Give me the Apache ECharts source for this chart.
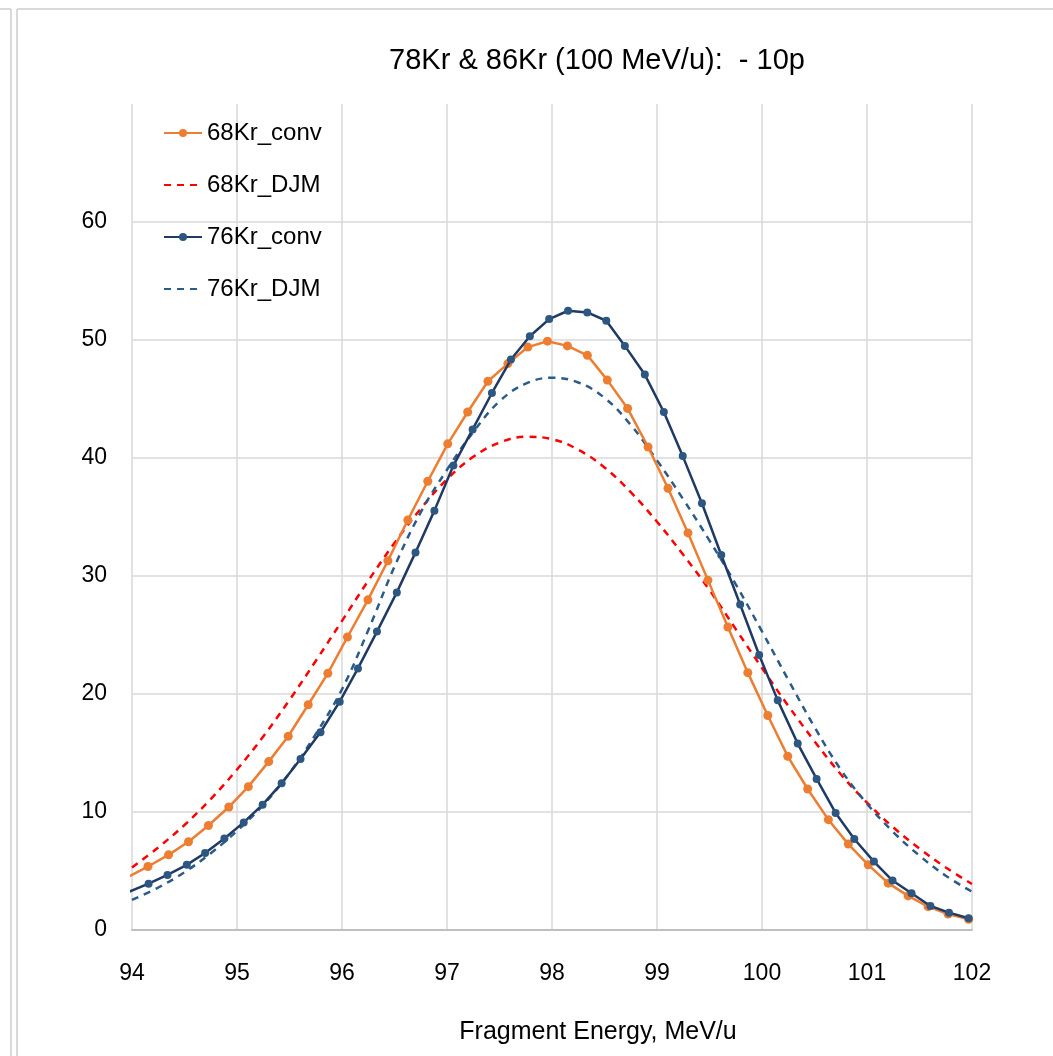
<!DOCTYPE html>
<html>
<head>
<meta charset="utf-8">
<script src="https://cdn.jsdelivr.net/npm/echarts@6/dist/echarts.min.js"></script>
<style>
html,body{margin:0;padding:0;background:#fff;}
#chart{width:1053px;height:1056px;}
</style>
</head>
<body>
<div id="chart"></div>
<script>
// ---- data ----
const titleText = '78Kr & 86Kr (100 MeV/u):  - 10p';
const xAxisName = 'Fragment Energy, MeV/u';
const seriesNames = ['68Kr_conv', '68Kr_DJM', '76Kr_conv', '76Kr_DJM'];
const xTicks = [94, 95, 96, 97, 98, 99, 100, 101, 102];
const yTicks = [0, 10, 20, 30, 40, 50, 60];

const kr68ConvX = [93.961, 94.152, 94.348, 94.538, 94.728, 94.922, 95.108, 95.302, 95.488, 95.678, 95.865,
  96.052, 96.247, 96.437, 96.627, 96.817, 97.007, 97.197, 97.390, 97.580, 97.770, 97.957, 98.147, 98.337,
  98.527, 98.720, 98.915, 99.105, 99.295, 99.485, 99.675, 99.865, 100.055, 100.245, 100.435, 100.632,
  100.822, 101.012, 101.202, 101.392, 101.582, 101.772, 101.968];
const kr68ConvY = [4.5, 5.38, 6.37, 7.48, 8.86, 10.42, 12.15, 14.27, 16.42, 19.09, 21.75,
  24.83, 27.98, 31.29, 34.75, 38.03, 41.2, 43.9, 46.5, 48.0, 49.4, 49.9, 49.5, 48.7,
  46.6, 44.2, 40.93, 37.44, 33.65, 29.65, 25.68, 21.81, 18.18, 14.72, 11.95, 9.35,
  7.28, 5.52, 3.97, 2.89, 1.98, 1.36, 0.91];

const kr76ConvX = [93.976, 94.158, 94.338, 94.522, 94.696, 94.880, 95.064, 95.244, 95.425, 95.605, 95.795,
  95.978, 96.152, 96.333, 96.522, 96.700, 96.880, 97.061, 97.244, 97.428, 97.609, 97.789, 97.973, 98.153,
  98.336, 98.517, 98.694, 98.884, 99.065, 99.245, 99.428, 99.612, 99.792, 99.973, 100.150, 100.340,
  100.520, 100.701, 100.879, 101.066, 101.243, 101.424, 101.604, 101.781, 101.968];
const kr76ConvY = [3.25, 3.93, 4.67, 5.52, 6.52, 7.76, 9.12, 10.62, 12.43, 14.5, 16.76,
  19.35, 22.17, 25.29, 28.61, 32.0, 35.54, 39.36, 42.42, 45.51, 48.34, 50.32, 51.77, 52.48,
  52.34, 51.63, 49.5, 47.07, 43.9, 40.16, 36.17, 31.78, 27.59, 23.3, 19.46, 15.8,
  12.8, 9.92, 7.71, 5.8, 4.19, 3.12, 2.04, 1.47, 0.99];

const djmX = [94.0, 94.25, 94.5, 94.75, 95.0, 95.25, 95.5, 95.75, 96.0, 96.25, 96.5, 96.75,
  97.0, 97.25, 97.5, 97.75, 98.0, 98.25, 98.5, 98.75, 99.0, 99.25, 99.5, 99.75,
  100.0, 100.25, 100.5, 100.75, 101.0, 101.25, 101.5, 101.75, 102.0];
const kr68DjmY = [5.3, 7.0, 8.9, 11.1, 13.6, 16.4, 19.5, 22.8, 26.2, 29.6, 32.8, 35.7,
  38.2, 40.1, 41.3, 41.8, 41.6, 40.7, 39.2, 37.1, 34.6, 31.8, 28.8, 25.5,
  22.2, 19.0, 16.0, 13.2, 10.8, 8.7, 6.9, 5.3, 3.9];
const kr76DjmY = [2.55, 3.6, 4.9, 6.5, 8.4, 10.6, 13.3, 16.6, 20.4, 25.4, 30.8, 35.4,
  39.0, 42.2, 44.8, 46.3, 46.8, 46.4, 45.1, 42.8, 39.8, 36.5, 33.0, 29.3,
  25.3, 21.2, 17.2, 13.6, 10.7, 8.3, 6.3, 4.6, 3.25];

// ---- chart ----
const pairs = (xs, ys) => xs.map((x, i) => [x, ys[i]]);
const FONT = "'Liberation Sans', Arial, sans-serif";

const chart = echarts.init(document.getElementById('chart'), null, {renderer: 'canvas'});
chart.setOption({
  backgroundColor: '#ffffff',
  animation: false,
  textStyle: {fontFamily: FONT},
  grid: {left: 132, right: 81, top: 104, bottom: 126},
  xAxis: {
    type: 'value', min: xTicks[0], max: xTicks[xTicks.length - 1], interval: 1,
    axisLine: {show: true, lineStyle: {color: '#bfbfbf', width: 2}},
    axisTick: {show: false},
    axisLabel: {color: '#000', fontSize: 23, fontFamily: FONT, margin: 32},
    splitLine: {show: true, showMinLine: true, showMaxLine: true, lineStyle: {color: '#d9d9d9', width: 1.5}}
  },
  yAxis: {
    type: 'value', min: yTicks[0], max: 70, interval: 10,
    axisLine: {show: false},
    axisTick: {show: false},
    axisLabel: {color: '#000', fontSize: 23, fontFamily: FONT, margin: 25, showMaxLabel: false},
    splitLine: {show: true, showMaxLine: false, lineStyle: {color: '#d9d9d9', width: 1.5}}
  },
  legend: {
    orient: 'vertical', left: 158, top: 116, itemGap: 28,
    itemWidth: 38, itemHeight: 10,
    textStyle: {color: '#000', fontSize: 24, fontFamily: FONT},
    data: [
      {name: seriesNames[0]},
      {name: seriesNames[1], itemStyle: {opacity: 0}},
      {name: seriesNames[2]},
      {name: seriesNames[3], itemStyle: {opacity: 0}}
    ]
  },
  series: [
    {
      name: seriesNames[0], type: 'line', data: pairs(kr68ConvX, kr68ConvY), z: 4,
      symbol: 'circle', symbolSize: 9, showSymbol: true,
      lineStyle: {color: '#ED7D31', width: 2.5},
      itemStyle: {color: '#ED7D31'}
    },
    {
      name: seriesNames[1], type: 'line', data: pairs(djmX, kr68DjmY), z: 2,
      symbol: 'none', smooth: 0.4,
      lineStyle: {color: '#FF0000', width: 2.5, type: [7, 6]},
      itemStyle: {color: '#FF0000'}
    },
    {
      name: seriesNames[2], type: 'line', data: pairs(kr76ConvX, kr76ConvY), z: 5,
      symbol: 'circle', symbolSize: 8, showSymbol: true,
      lineStyle: {color: '#203A66', width: 2.5},
      itemStyle: {color: '#2D5680'}
    },
    {
      name: seriesNames[3], type: 'line', data: pairs(djmX, kr76DjmY), z: 3,
      symbol: 'none', smooth: 0.4,
      lineStyle: {color: '#2B5B88', width: 2.5, type: [7, 6]},
      itemStyle: {color: '#2B5B88'}
    }
  ],
  graphic: [
    {type: 'line', shape: {x1: 0, y1: 9, x2: 11, y2: 9}, style: {stroke: '#d9d9d9', lineWidth: 2}},
    {type: 'line', shape: {x1: 11, y1: 9, x2: 11, y2: 1056}, style: {stroke: '#d9d9d9', lineWidth: 2}},
    {type: 'line', shape: {x1: 17, y1: 9, x2: 1053, y2: 9}, style: {stroke: '#d9d9d9', lineWidth: 2}},
    {type: 'line', shape: {x1: 17, y1: 9, x2: 17, y2: 1056}, style: {stroke: '#d9d9d9', lineWidth: 2}},
    {type: 'text', x: 597, y: 61, style: {text: titleText, fill: '#000', font: "29px 'Liberation Sans', Arial, sans-serif", textAlign: 'center', textVerticalAlign: 'middle'}},
    {type: 'text', x: 598, y: 1032, style: {text: xAxisName, fill: '#000', font: "25px 'Liberation Sans', Arial, sans-serif", textAlign: 'center', textVerticalAlign: 'middle'}}
  ]
});
</script>
</body>
</html>
